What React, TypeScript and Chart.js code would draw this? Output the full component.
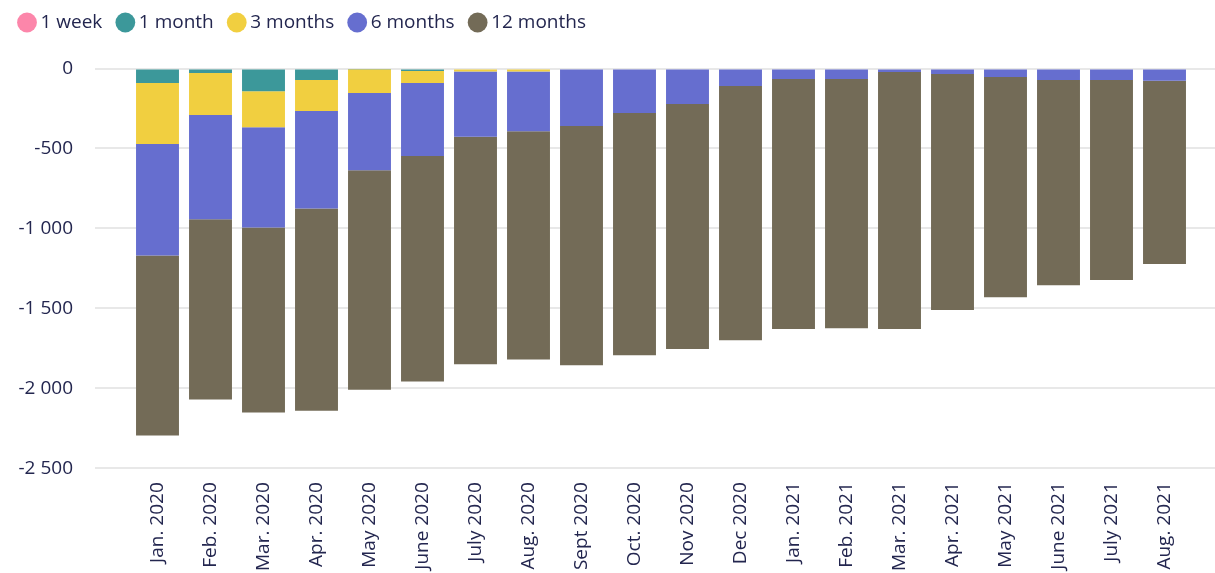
import React, { useEffect, useRef } from "react";
import { Chart, registerables } from "chart.js";

Chart.register(...registerables);

const categories = [
  "Jan. 2020", "Feb. 2020", "Mar. 2020", "Apr. 2020", "May 2020", "June 2020",
  "July 2020", "Aug. 2020", "Sept 2020", "Oct. 2020", "Nov 2020", "Dec 2020",
  "Jan. 2021", "Feb. 2021", "Mar. 2021", "Apr. 2021", "May 2021", "June 2021",
  "July 2021", "Aug. 2021",
];

const week1 = [0, 0, -6, 0, 0, 0, 0, 0, 0, 0, 0, 0, 0, 0, 0, 0, 0, 0, 0, 0];
const month1 = [-90, -28, -136, -72, -5, -16, 0, 0, 0, 0, 0, 0, 0, 0, 0, 0, 0, 0, 0, 0];
const months3 = [-383, -263, -226, -194, -149, -75, -18, -18, 0, 0, 0, 0, 0, 0, 0, 0, 0, 0, 0, 0];
const months6 = [-696, -652, -626, -610, -483, -457, -409, -374, -360, -279, -222, -110, -66, -66, -22, -34, -53, -72, -72, -76];
const months12 = [-1127, -1128, -1157, -1264, -1372, -1410, -1423, -1428, -1496, -1514, -1533, -1589, -1564, -1558, -1608, -1477, -1377, -1283, -1251, -1147];

const seriesLabels = ["1 week", "1 month", "3 months", "6 months", "12 months"];
const seriesColors = ["#FC86AA", "#3C989A", "#F1CF40", "#666ECF", "#736B57"];

const yMin = -2500;
const yMax = 0;
const yStep = 500;

const TEXT = "#23264F";
const GRID = "#E8E8E8";
const FONT = "'Open Sans', 'Noto Sans', sans-serif";

function fmt(v: number): string {
  const s = Math.abs(v).toString().replace(/\B(?=(\d{3})+(?!\d))/g, " ");
  return (v < 0 ? "-" : "") + s;
}

export default function App() {
  const ref = useRef<HTMLCanvasElement | null>(null);

  useEffect(() => {
    if (!ref.current) return;
    const series = [week1, month1, months3, months6, months12];
    const chart = new Chart(ref.current, {
      type: "bar",
      data: {
        labels: categories,
        datasets: series.map((d, i) => ({
          label: seriesLabels[i],
          data: d,
          backgroundColor: seriesColors[i],
          borderColor: seriesColors[i],
          borderWidth: 0,
          barPercentage: 0.81,
          categoryPercentage: 1,
          yAxisID: "y",
        })),
      },
      options: {
        animation: false,
        responsive: true,
        maintainAspectRatio: false,
        layout: { padding: { left: 4, right: 0, top: 0, bottom: 0 } },
        plugins: {
          tooltip: { enabled: false },
          title: {
            display: true,
            text: " ",
            weight: 500,
            position: "top",
            font: { size: 10, lineHeight: 1 },
            padding: { top: 16.5, bottom: 0 },
          },
          legend: {
            position: "top",
            align: "start",
            labels: {
              usePointStyle: true,
              pointStyle: "circle",
              boxWidth: 8,
              boxHeight: 14,
              padding: 19,
              color: TEXT,
              font: { family: FONT, size: 19 },
            },
          },
        },
        scales: {
          x: {
            stacked: true,
            grid: { display: false, drawTicks: false },
            border: { display: false },
            ticks: {
              color: TEXT,
              font: { family: FONT, size: 19 },
              minRotation: 90,
              maxRotation: 90,
              padding: 14,
              autoSkip: false,
            },
          },
          y: {
            stacked: true,
            position: "left",
            min: yMin,
            max: yMax,
            grid: { color: GRID, lineWidth: 2, drawTicks: true, tickLength: 36 },
            border: { display: false },
            ticks: {
              stepSize: yStep,
              color: TEXT,
              padding: 22,
              font: { family: FONT, size: 19, lineHeight: 1.84 },
              callback: (v: any) => fmt(Number(v)),
            },
            afterFit: (scale: any) => {
              scale.width = 127;
            },
          },
          yRight: {
            type: "linear",
            position: "right",
            min: yMin,
            max: yMax,
            grid: { color: GRID, lineWidth: 2, drawOnChartArea: false, drawTicks: true, tickLength: 24 },
            border: { display: false },
            ticks: { stepSize: yStep, display: false },
            afterFit: (scale: any) => {
              scale.width = 24;
            },
          },
        },
      },
    });
    return () => chart.destroy();
  }, []);

  return (
    <div style={{ position: "fixed", left: 0, top: -6, width: 1215, height: 591 }}>
      <canvas ref={ref} />
    </div>
  );
}
